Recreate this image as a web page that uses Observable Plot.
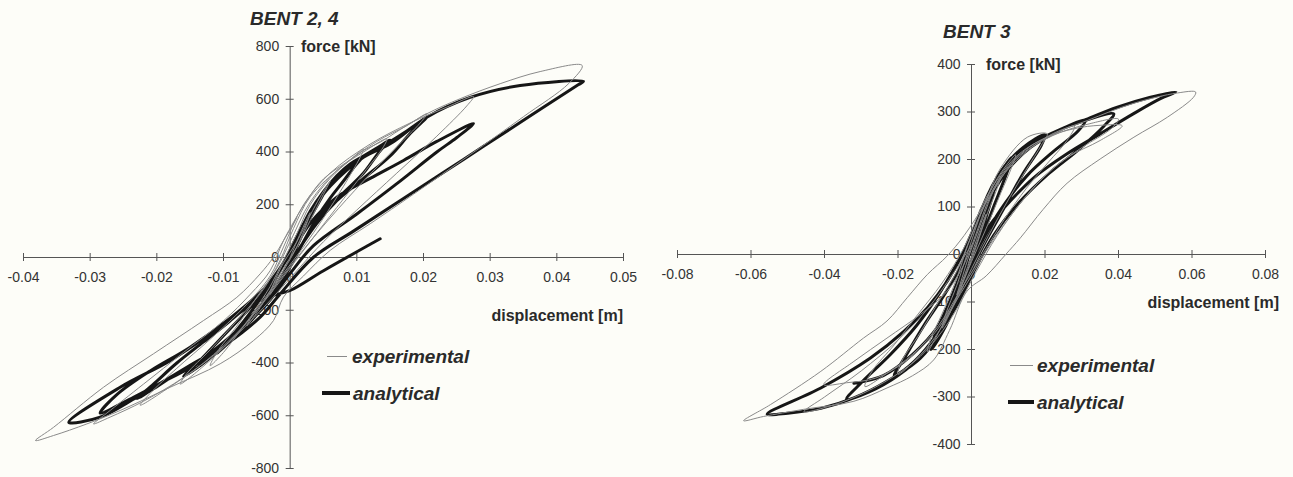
<!DOCTYPE html>
<html><head><meta charset="utf-8">
<script src="https://cdn.jsdelivr.net/npm/d3@7"></script>
<script src="https://cdn.jsdelivr.net/npm/@observablehq/plot@0.6"></script>
<style>
html,body{margin:0;padding:0;background:#fdfdf8;}
#wrap{position:relative;width:1293px;height:477px;overflow:hidden;font-family:Arial,"Liberation Sans",sans-serif;background:#fdfdf8;}
.panel{position:absolute;top:0;}
.lbl{position:absolute;white-space:nowrap;line-height:1;color:#2a2a2a;transform:translateY(-50%);}
.sample{position:absolute;}
</style></head>
<body><div id="wrap"></div>
<script>
// ---------- data: [displacement (m), force (kN)] ----------
const bent24Experimental = [
[0,0],[0.0015,90],[0.003,170],[0.0025,130],[0.001,40],[-0.001,-50],[-0.003,-140],[-0.0025,-100],[-0.001,-20],
[0.001,60],[0.003,160],[0.0045,230],[0.006,290],[0.005,240],[0.003,140],[0.001,40],[-0.002,-80],[-0.004,-170],[-0.0065,-260],[-0.0055,-210],[-0.003,-110],[-0.001,-10],
[0.001,90],[0.003,200],[0.006,300],[0.009,370],[0.011,410],[0.0105,380],[0.008,270],[0.005,150],[0.002,40],[-0.001,-60],[-0.004,-160],[-0.007,-260],[-0.010,-360],[-0.012,-410],[-0.011,-360],[-0.008,-260],[-0.005,-150],[-0.002,-40],
[0.0,60],[0.003,210],[0.007,330],[0.011,400],[0.0145,450],[0.014,420],[0.011,320],[0.007,190],[0.003,60],[0,-40],[-0.004,-170],[-0.008,-290],[-0.012,-390],[-0.0165,-480],[-0.0155,-440],[-0.012,-350],[-0.008,-240],[-0.004,-120],[-0.0015,-10],
[0.0005,110],[0.003,230],[0.008,350],[0.013,440],[0.0175,500],[0.0205,545],[0.0195,510],[0.016,420],[0.011,290],[0.006,150],[0.002,30],[-0.002,-100],[-0.007,-260],[-0.013,-400],[-0.018,-490],[-0.0225,-560],[-0.021,-515],[-0.017,-420],[-0.012,-310],[-0.007,-190],[-0.003,-70],[-0.001,40],
[0.002,200],[0.006,320],[0.012,430],[0.018,510],[0.0235,570],[0.0275,610],[0.0265,575],[0.022,460],[0.016,320],[0.010,180],[0.005,60],[0.001,-50],[-0.004,-190],[-0.010,-340],[-0.016,-455],[-0.022,-545],[-0.027,-605],[-0.0295,-631],[-0.0275,-590],[-0.022,-480],[-0.016,-360],[-0.010,-240],[-0.006,-140],[-0.003,-50],[-0.001,64],
[0.0025,216],[0.005,298],[0.0085,362],[0.011,406],[0.0135,437],[0.0165,485],[0.0205,545],[0.0255,602],[0.0315,659],[0.0375,705],[0.0438,728],[0.0418,660],[0.035,534],[0.027,390],[0.0185,240],[0.012,128],[0.006,27],[0.002,-70],[-0.001,-150],[-0.0025,-239],[-0.0055,-315],[-0.0105,-403],[-0.018,-492],[-0.0255,-580],[-0.0305,-631],[-0.0355,-675],[-0.0382,-694],[-0.0355,-644],[-0.028,-492],[-0.0205,-365],[-0.013,-239],[-0.008,-151],[-0.0045,-62],[-0.0025,1],[-0.001,64],[0.001,150]
];
const bent24Analytical = [
[0,0],[0.001,60],[0.002,110],[0.0035,180],[0.005,240],[0.0042,205],[0.003,150],[0.0015,70],[0,-10],[-0.0015,-80],[-0.003,-140],[-0.005,-210],[-0.0042,-175],[-0.003,-120],[-0.0015,-50],[0,20],
[0.0015,100],[0.003,170],[0.005,245],[0.007,305],[0.009,350],[0.011,385],[0.0098,350],[0.008,290],[0.006,225],[0.004,150],[0.002,60],[0,-30],[-0.002,-110],[-0.004,-180],[-0.006,-240],[-0.0085,-305],[-0.011,-365],[-0.0098,-330],[-0.008,-275],[-0.006,-210],[-0.004,-140],[-0.002,-60],[0,20],
[0.0015,100],[0.003,175],[0.005,250],[0.007,310],[0.009,355],[0.011,385],[0.013,415],[0.015,445],[0.0135,405],[0.011,320],[0.008,245],[0.005,170],[0.0025,80],[0,-35],[-0.002,-120],[-0.005,-215],[-0.008,-295],[-0.011,-360],[-0.0135,-410],[-0.016,-450],[-0.0145,-415],[-0.012,-350],[-0.009,-270],[-0.006,-190],[-0.003,-100],[-0.001,-20],
[0.001,70],[0.003,170],[0.005,250],[0.008,330],[0.011,385],[0.014,425],[0.0175,480],[0.0205,532],[0.018,470],[0.015,385],[0.011,300],[0.007,215],[0.004,130],[0.001,20],[-0.002,-100],[-0.005,-200],[-0.009,-300],[-0.013,-380],[-0.017,-440],[-0.02,-490],[-0.023,-535],[-0.0205,-480],[-0.017,-400],[-0.013,-320],[-0.009,-240],[-0.005,-150],[-0.002,-60],[0,10],
[0.003,130],[0.007,229],[0.012,300],[0.017,368],[0.022,440],[0.0275,508],[0.025,455],[0.022,400],[0.016,280],[0.010,165],[0.0035,45],[0,-60],[-0.003,-160],[-0.008,-290],[-0.013,-390],[-0.019,-470],[-0.0235,-530],[-0.0285,-590],[-0.026,-520],[-0.021,-430],[-0.015,-340],[-0.009,-230],[-0.004,-120],[-0.001,-20],
[0.001,80],[0.003,170],[0.006,270],[0.011,380],[0.015,431],[0.0205,532],[0.027,607],[0.0345,652],[0.044,668],[0.0432,655],[0.035,520],[0.026,372],[0.017,224],[0.0095,100],[0.0035,1],[-0.0015,-138],[-0.0045,-226],[-0.0095,-327],[-0.0155,-416],[-0.023,-530],[-0.0285,-605],[-0.0332,-625],
[-0.0255,-492],[-0.018,-391],[-0.0105,-264],[-0.0055,-175],[-0.002,-140],[0,-125],[0.005,-50],[0.0135,71]
];
const bent3Experimental = [
[0,0],[0.002,45],[0.004,85],[0.003,60],[0.001,15],[-0.001,-25],[-0.004,-85],[-0.003,-60],[-0.001,-10],
[0.003,75],[0.006,135],[0.008,165],[0.007,140],[0.004,80],[0.001,10],[-0.003,-70],[-0.006,-125],[-0.008,-155],[-0.007,-125],[-0.004,-65],[-0.001,5],
[0.003,95],[0.007,160],[0.012,210],[0.011,185],[0.008,130],[0.004,55],[0,-15],[-0.004,-90],[-0.008,-150],[-0.012,-205],[-0.011,-175],[-0.008,-125],[-0.004,-50],[-0.001,20],
[0.004,115],[0.008,183],[0.0152,247],[0.0206,254],[0.019,230],[0.015,180],[0.010,115],[0.005,45],[0,-30],[-0.005,-110],[-0.010,-175],[-0.015,-220],[-0.02,-252],[-0.019,-225],[-0.014,-165],[-0.009,-100],[-0.004,-35],[0,40],
[0.005,125],[0.010,185],[0.016,228],[0.022,252],[0.028,270],[0.026,240],[0.021,195],[0.015,140],[0.009,75],[0.003,0],[-0.003,-75],[-0.009,-150],[-0.016,-210],[-0.023,-250],[-0.029,-278],[-0.027,-245],[-0.021,-190],[-0.015,-130],[-0.008,-60],[-0.002,15],
[0.004,120],[0.012,205],[0.02,245],[0.028,265],[0.035,272],[0.041,271],[0.035,240],[0.026,204],[0.018,150],[0.011,85],[0.005,20],[-0.002,-70],[-0.01,-165],[-0.018,-225],[-0.026,-260],[-0.034,-270],[-0.0402,-274],[-0.032,-225],[-0.023,-176],[-0.0139,-126],[-0.0066,-77],[-0.002,-20],
[0.002,60],[0.005,120],[0.01,180],[0.0206,248],[0.0315,282],[0.044,318],[0.056,340],[0.061,342],[0.0604,331],[0.0533,289],[0.0442,247],[0.035,201],[0.026,150],[0.0195,95],[0.0133,35],[0.0093,0],[0.004,-45],[-0.0012,-77],[-0.006,-160],[-0.0103,-222],[-0.016,-255],[-0.023,-281],[-0.032,-309],[-0.0457,-326],[-0.0566,-341],[-0.062,-350],
[-0.0547,-316],[-0.041,-246],[-0.0294,-176],[-0.023,-140],[-0.0175,-91],[-0.012,-42],[-0.0066,-3],[-0.002,40],[0.004,110],[0.012,200],[0.022,250],[0.032,275],[0.04,285],[0.038,265],[0.03,225],[0.022,180],[0.014,115],[0.007,40],[0.001,-40],[-0.006,-140],[-0.014,-215],[-0.024,-270],[-0.035,-310],[-0.0456,-331],[-0.04,-300],[-0.03,-245],[-0.02,-180],[-0.012,-115],[-0.005,-40],[0,20]
];
const bent3Analytical = [
[0,0],[0.0015,35],[0.003,70],[0.006,130],[0.005,105],[0.002,30],[-0.002,-50],[-0.005,-110],[-0.004,-85],[-0.001,-10],
[0.003,90],[0.007,160],[0.011,205],[0.01,180],[0.006,100],[0.002,20],[-0.003,-80],[-0.007,-150],[-0.011,-200],[-0.01,-170],[-0.006,-100],[-0.002,-20],
[0.003,100],[0.008,175],[0.014,225],[0.02,252],[0.019,230],[0.014,170],[0.009,100],[0.004,30],[0,-30],[-0.005,-110],[-0.011,-185],[-0.017,-235],[-0.021,-255],[-0.018,-215],[-0.013,-150],[-0.007,-80],[-0.002,-10],
[0.003,100],[0.0097,183],[0.0152,226],[0.0215,254],[0.03,280],[0.0387,296],[0.036,270],[0.029,220],[0.021,170],[0.013,110],[0.006,40],[0.001,-30],[-0.005,-120],[-0.012,-200],[-0.02,-255],[-0.028,-290],[-0.034,-305],[-0.03,-270],[-0.022,-210],[-0.015,-150],[-0.009,-85],[-0.004,-20],
[0.0015,57],[0.0052,120],[0.0097,183],[0.0152,226],[0.0215,254],[0.0305,282],[0.0397,310],[0.0487,331],[0.0556,342],[0.0514,328],[0.044,296],[0.035,254],[0.026,212],[0.017,162],[0.0106,113],[0.0052,64],[0.0015,7],[-0.003,-70],[-0.0084,-162],[-0.0139,-218],[-0.023,-267],[-0.032,-302],[-0.041,-324],[-0.05,-334],[-0.0556,-336],
[-0.041,-281],[-0.0275,-218],[-0.0184,-162],[-0.012,-112],[-0.0066,-56],[-0.003,-7],[0.001,60],[0.005,120],[0.01,180],[0.016,225],[0.024,262],[0.031,283],[0.029,260],[0.022,215],[0.015,165],[0.008,95],[0.003,30],[-0.003,-60],[-0.009,-150],[-0.016,-210],[-0.024,-255],[-0.032,-271]
];
const bent24XTicks = [-0.04,-0.03,-0.02,-0.01,0,0.01,0.02,0.03,0.04,0.05];
const bent24XTickLabels = ["-0.04","-0.03","-0.02","-0.01","0","0.01","0.02","0.03","0.04","0.05"];
const bent24YTicks = [800,600,400,200,0,-200,-400,-600,-800];
const bent24YTickLabels = ["800","600","400","200","0","-200","-400","-600","-800"];
const bent3XTicks = [-0.08,-0.06,-0.04,-0.02,0,0.02,0.04,0.06,0.08];
const bent3XTickLabels = ["-0.08","-0.06","-0.04","-0.02","0","0.02","0.04","0.06","0.08"];
const bent3YTicks = [400,300,200,100,0,-100,-200,-300,-400];
const bent3YTickLabels = ["400","300","200","100","0","-100","-200","-300","-400"];
const titles = ["BENT 2, 4", "BENT 3"];
const seriesNames = ["experimental", "analytical"];
const yLabel = "force [kN]";
const xLabel = "displacement [m]";

// ---------- drawing ----------
const EXP_COLOR = "#8a8a8a", ANA_COLOR = "#161616", AXIS = "#555";
function panel(o) {
  const toObj = a => a.map(([d, f]) => ({d, f}));
  return Plot.plot({
    width: o.width, height: 477,
    marginLeft: o.ml, marginRight: o.mr, marginTop: o.mt, marginBottom: o.mb,
    style: {background: "transparent", fontFamily: "Arial, 'Liberation Sans', sans-serif", overflow: "visible"},
    x: {domain: o.xDomain, axis: null},
    y: {domain: o.yDomain, axis: null},
    marks: [
      Plot.text(o.xTicks, {x: d => d, y: () => 0, text: (d, i) => o.xTickLabels[i], dy: 20, fontSize: 14, fill: "#333"}),
      Plot.text(o.yTicks, {x: () => 0, y: d => d, text: (d, i) => o.yTickLabels[i], dx: -11, textAnchor: "end", fontSize: 14, fill: "#333"}),
      Plot.ruleY([0], {stroke: AXIS}),
      Plot.ruleX([0], {stroke: AXIS}),
      Plot.ruleX(o.xTicks, {x: d => d, y1: () => 0, y2: () => 0, insetTop: -4, insetBottom: -4, stroke: AXIS}),
      Plot.ruleY(o.yTicks, {y: d => d, x1: () => 0, x2: () => 0, insetLeft: -4, insetRight: -4, stroke: AXIS}),
      Plot.line(toObj(o.ana), {x: "d", y: "f", stroke: ANA_COLOR, strokeWidth: 3, curve: "catmull-rom", strokeLinejoin: "round", strokeLinecap: "round"}),
      Plot.line(toObj(o.exp), {x: "d", y: "f", stroke: EXP_COLOR, strokeWidth: 1, curve: "catmull-rom", strokeLinejoin: "round"})
    ]
  });
}
const wrap = document.getElementById("wrap");
function addPanel(svg, left, width) {
  const d = document.createElement("div");
  d.className = "panel"; d.style.left = left + "px"; d.style.width = width + "px";
  d.appendChild(svg); wrap.appendChild(d);
}
addPanel(panel({width: 640, ml: 23, mr: 17, mt: 46, mb: 9, xDomain: [-0.04, 0.05], yDomain: [-800, 800],
  xTicks: bent24XTicks, xTickLabels: bent24XTickLabels, yTicks: bent24YTicks, yTickLabels: bent24YTickLabels,
  exp: bent24Experimental, ana: bent24Analytical}), 0, 640);
addPanel(panel({width: 643, ml: 27, mr: 28, mt: 64, mb: 33, xDomain: [-0.08, 0.08], yDomain: [-400, 400],
  xTicks: bent3XTicks, xTickLabels: bent3XTickLabels, yTicks: bent3YTicks, yTickLabels: bent3YTickLabels,
  exp: bent3Experimental, ana: bent3Analytical}), 650, 643);

function label(text, x, y, css, right) {
  const s = document.createElement("div");
  s.className = "lbl"; s.textContent = text;
  if (right) { s.style.right = (1293 - x) + "px"; } else { s.style.left = x + "px"; }
  s.style.top = y + "px";
  Object.assign(s.style, css);
  wrap.appendChild(s);
}
function sample(x1, x2, y, w, color) {
  const s = document.createElement("div");
  s.className = "sample";
  Object.assign(s.style, {left: x1 + "px", width: (x2 - x1) + "px", top: (y - w / 2) + "px", height: w + "px", background: color});
  wrap.appendChild(s);
}
const titleCss = {fontSize: "19px", fontWeight: "bold", fontStyle: "italic"};
const axCss = {fontSize: "16px", fontWeight: "bold"};
const legCss = {fontSize: "19px", fontWeight: "bold", fontStyle: "italic"};
// left panel texts
label(titles[0], 250, 18, titleCss);
label(yLabel, 301, 47, axCss);
label(xLabel, 623, 316, axCss, true);
sample(327, 347, 356, 1, EXP_COLOR); label(seriesNames[0], 352, 356, legCss);
sample(322, 350, 393, 4, ANA_COLOR); label(seriesNames[1], 353, 393, legCss);
// right panel texts
label(titles[1], 943, 31, titleCss);
label(yLabel, 986, 65, axCss);
label(xLabel, 1279, 303, axCss, true);
sample(1010, 1033, 365, 1, EXP_COLOR); label(seriesNames[0], 1037, 365, legCss);
sample(1008, 1034, 402, 4, ANA_COLOR); label(seriesNames[1], 1037, 402, legCss);
</script>
</body></html>
